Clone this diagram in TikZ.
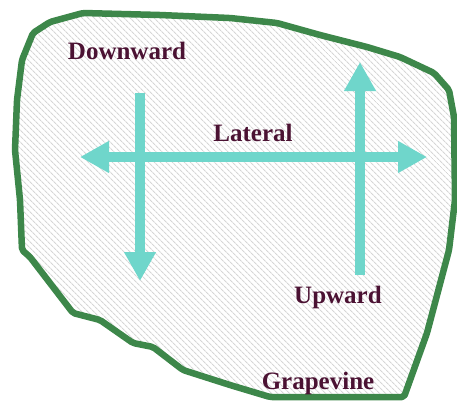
\documentclass[tikz,border=0pt]{standalone}
\usepackage{fontspec}
\setmainfont{Liberation Serif}
\usetikzlibrary{arrows.meta,patterns.meta}
\definecolor{blobgreen}{HTML}{3D874A}
\definecolor{arrowcyan}{HTML}{6FD6CB}
\definecolor{labelred}{HTML}{4B1233}
\definecolor{hatch}{HTML}{D6D6D6}
\tikzset{
  flowarrow/.style={draw=arrowcyan, line width=10pt,
    -{Triangle[length=29pt,width=30pt,fill=arrowcyan]}},
  flowlabel/.style={text=labelred, font=\bfseries\fontsize{25}{30}\selectfont, anchor=base, inner sep=0pt},
}
\begin{document}
\begin{tikzpicture}[x=1pt,y=-1pt]
\useasboundingbox (0,0) rectangle (457,402);
% grapevine region
\path[pattern={Lines[angle=-45,distance=4pt,line width=1.1pt]}, pattern color=hatch,
      draw=blobgreen, line width=6.5pt, line join=round, rounded corners=2pt]
  (22,250) -- (20,200) -- (15,150) -- (17,100) -- (22,60) -- (33,33) -- (50,22) -- (83,13)
  -- (160,15) -- (230,18) -- (277,23) -- (320,35) -- (367,47) -- (400,57) -- (434,73)
  -- (449,90) -- (454,117) -- (455,200) -- (449,250) -- (427,333) -- (404,397) -- (270,397)
  -- (230,385) -- (183,370) -- (153,347) -- (133,343) -- (100,320) -- (73,313) -- (30,257) -- cycle;
% arrow end points
\coordinate (latL) at (80,157);
\coordinate (latR) at (427,157);
\coordinate (latM) at (253,157);
\coordinate (downTop) at (140,93);
\coordinate (downTip) at (140,281);
\coordinate (upBot) at (360,275);
\coordinate (upTip) at (360,62);
% arrows
\draw[flowarrow] (latM) -- (latL);
\draw[flowarrow] (latM) -- (latR);
\draw[flowarrow] (downTop) -- (downTip);
\draw[flowarrow] (upBot) -- (upTip);
% labels
\node[flowlabel] (down) at (127,59.5) {Downward};
\node[flowlabel] (lat) at (253,141) {Lateral};
\node[flowlabel] (up) at (338,303) {Upward};
\node[flowlabel] (grape) at (318,389) {Grapevine};
\end{tikzpicture}
\end{document}
